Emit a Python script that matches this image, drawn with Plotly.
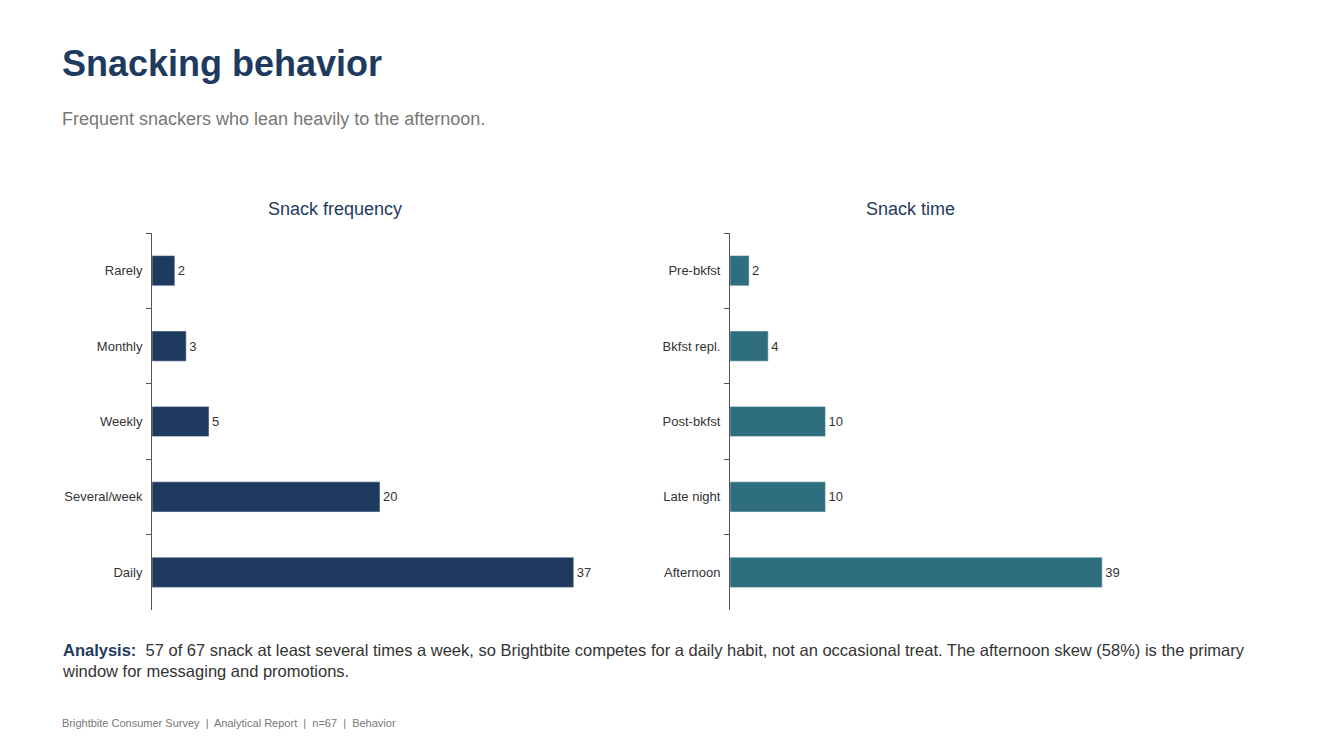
import plotly.graph_objects as go

freq_cats = ["Rarely", "Monthly", "Weekly", "Several/week", "Daily"]
freq_vals = [2, 3, 5, 20, 37]
time_cats = ["Pre-bkfst", "Bkfst repl.", "Post-bkfst", "Late night", "Afternoon"]
time_vals = [2, 4, 10, 10, 39]

W, H = 1334, 750
OFF = 8
NAVY = "#1f3a5f"
TEAL = "#2e6e7e"
FONT = "Liberation Sans, Arial, sans-serif"

fig = go.Figure()
fig.add_trace(go.Bar(y=freq_cats, x=freq_vals, orientation="h", marker_color=NAVY,
                     text=freq_vals, textposition="outside", cliponaxis=False,
                     textfont=dict(size=13, color="#333"), xaxis="x", yaxis="y"))
fig.add_trace(go.Bar(y=time_cats, x=time_vals, orientation="h", marker_color=TEAL,
                     text=time_vals, textposition="outside", cliponaxis=False,
                     textfont=dict(size=13, color="#333"), xaxis="x2", yaxis="y2"))

def px(x):
    return (x - OFF) / W

def py(y):
    return 1 - (y - OFF) / H

ydom = [py(610), py(233)]
yax = dict(autorange="reversed", showline=True, linecolor="#555", linewidth=1,
           ticks="outside", tickson="boundaries", ticklen=5, tickcolor="#555",
           ticklabelstandoff=6,
           tickfont=dict(size=13, color="#333"), domain=ydom, showgrid=False)
fig.update_layout(
    width=W, height=H, margin=dict(l=0, r=0, t=0, b=0),
    paper_bgcolor="white", plot_bgcolor="white", showlegend=False,
    font=dict(family=FONT), bargap=0.6,
    xaxis=dict(domain=[px(152), px(637)], range=[0, 42.55], visible=False),
    xaxis2=dict(domain=[px(730), px(1158)], range=[0, 44.85], visible=False),
    yaxis=dict(anchor="x", **yax),
    yaxis2=dict(anchor="x2", **yax),
)

def txt(x, y, s, size, color, xanchor="left", **kw):
    fig.add_annotation(x=px(x), y=py(y), xref="paper", yref="paper", text=s,
                       showarrow=False, xanchor=xanchor, yanchor="middle",
                       font=dict(size=size, color=color, family=FONT), align="left", **kw)

txt(60, 64, "<b>Snacking behavior</b>", 36, NAVY)
txt(60, 119, "Frequent snackers who lean heavily to the afternoon.", 18, "#777")
txt(335, 209, "Snack frequency", 18, NAVY, xanchor="center")
txt(910, 209, "Snack time", 18, NAVY, xanchor="center")
txt(60, 660, "<b style='color:%s'>Analysis:</b>  57 of 67 snack at least several times a week, so Brightbite competes for a daily habit, not an occasional treat. The afternoon skew (58%%) is the primary<br>window for messaging and promotions." % NAVY, 16.5, "#333")
txt(60, 723, "Brightbite Consumer Survey  |  Analytical Report  |  n=67  |  Behavior", 11, "#777")

fig.write_html("out.html")
